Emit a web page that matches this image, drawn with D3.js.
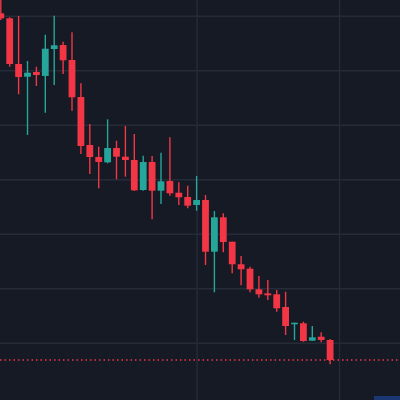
<!DOCTYPE html>
<html>
<head>
<meta charset="utf-8">
<script src="https://cdn.jsdelivr.net/npm/d3@7"></script>
<style>
html,body{margin:0;padding:0;background:#161a25;overflow:hidden;}
svg{display:block;}
</style>
</head>
<body>
<svg id="chart" width="400" height="400"></svg>
<script>
// Candle data (price units), index = bar number
const opens  = [7.044,6.952,6.114,5.881,5.967,5.894,6.389,6.462,6.187,5.508,4.628,4.407,4.310,4.572,4.413,4.352,3.802,4.316,3.789,3.967,3.752,3.673,3.527,3.618,2.670,3.301,2.853,2.439,2.358,1.980,1.906,1.888,1.655,1.338,1.356,1.037,1.110,1.050];
const highs  = [7.380,6.971,6.994,6.169,6.064,6.651,7.000,6.523,6.695,5.760,5.013,4.596,5.099,4.706,4.976,4.829,4.431,4.426,4.486,4.769,3.943,3.881,4.059,3.710,3.417,3.374,2.853,2.591,2.394,2.224,2.150,1.967,1.936,1.367,1.385,1.306,1.191,1.068];
const lows   = [6.921,6.064,5.558,4.811,5.710,5.220,5.728,5.930,5.257,4.462,4.095,3.833,4.292,3.998,4.046,3.783,3.789,3.264,3.545,3.697,3.527,3.466,3.422,2.426,1.925,2.659,2.273,2.053,1.925,1.826,1.783,1.569,1.141,1.050,1.018,1.037,1.007,0.604];
const closes = [6.952,6.114,5.875,5.954,5.912,6.394,6.457,6.182,5.503,4.609,4.407,4.316,4.572,4.413,4.352,3.796,4.316,3.789,3.961,3.741,3.668,3.514,3.618,2.670,3.301,2.848,2.439,2.347,1.980,1.888,1.870,1.631,1.306,1.367,1.031,1.099,1.050,0.683];
const priceTicks = [1,2,3,4,5,6,7];
const timeTicks = [22,38];

const data = opens.map((o,i)=>({i, o, h:highs[i], l:lows[i], c:closes[i]}));

const W = 400, H = 400;
const upColor = "#26a69a", downColor = "#f23645";

const x = d3.scaleLinear().domain([0, 40]).range([0.8, 356.8]);
const y = d3.scaleLinear().domain([1, 7]).range([342.7, 15.7]);

const svg = d3.select("#chart");
svg.append("rect").attr("width",W).attr("height",H).attr("fill","#161a25");

// grid via axes
svg.append("g").attr("class","grid-y")
  .call(d3.axisRight(y).tickValues(priceTicks).tickSize(W).tickFormat(""));
svg.append("g").attr("class","grid-x")
  .call(d3.axisBottom(x).tickValues(timeTicks).tickSize(H).tickFormat(""));
svg.selectAll(".grid-y .domain, .grid-x .domain").remove();
svg.selectAll(".grid-y line, .grid-x line").attr("stroke","#262b38").attr("stroke-width",1.4);

const bodyW = 6.8;
const g = svg.append("g");
const candle = g.selectAll("g.c").data(data).join("g").attr("class","c");
candle.append("line")
  .attr("x1", d=>x(d.i)).attr("x2", d=>x(d.i))
  .attr("y1", d=>y(d.h)).attr("y2", d=>y(d.l))
  .attr("stroke", d=> d.c>=d.o ? upColor : downColor)
  .attr("stroke-width", 1.4);
candle.append("rect")
  .attr("x", d=>x(d.i)-bodyW/2)
  .attr("width", bodyW)
  .attr("y", d=>y(Math.max(d.o,d.c)))
  .attr("height", d=>Math.max(1.5, Math.abs(y(d.o)-y(d.c))))
  .attr("fill", d=> d.c>=d.o ? upColor : downColor);

// last price dotted line
const last = closes[closes.length-1];
svg.append("line")
  .attr("x1",0).attr("x2",W)
  .attr("y1",y(last)).attr("y2",y(last))
  .attr("stroke",downColor).attr("stroke-width",1.3)
  .attr("stroke-dasharray","1.5,3");

// faint blue label edge bottom-right
svg.append("rect").attr("x",374).attr("y",396).attr("width",26).attr("height",4)
  .attr("fill","#1d3f86").attr("opacity",0.8);
</script>
</body>
</html>
